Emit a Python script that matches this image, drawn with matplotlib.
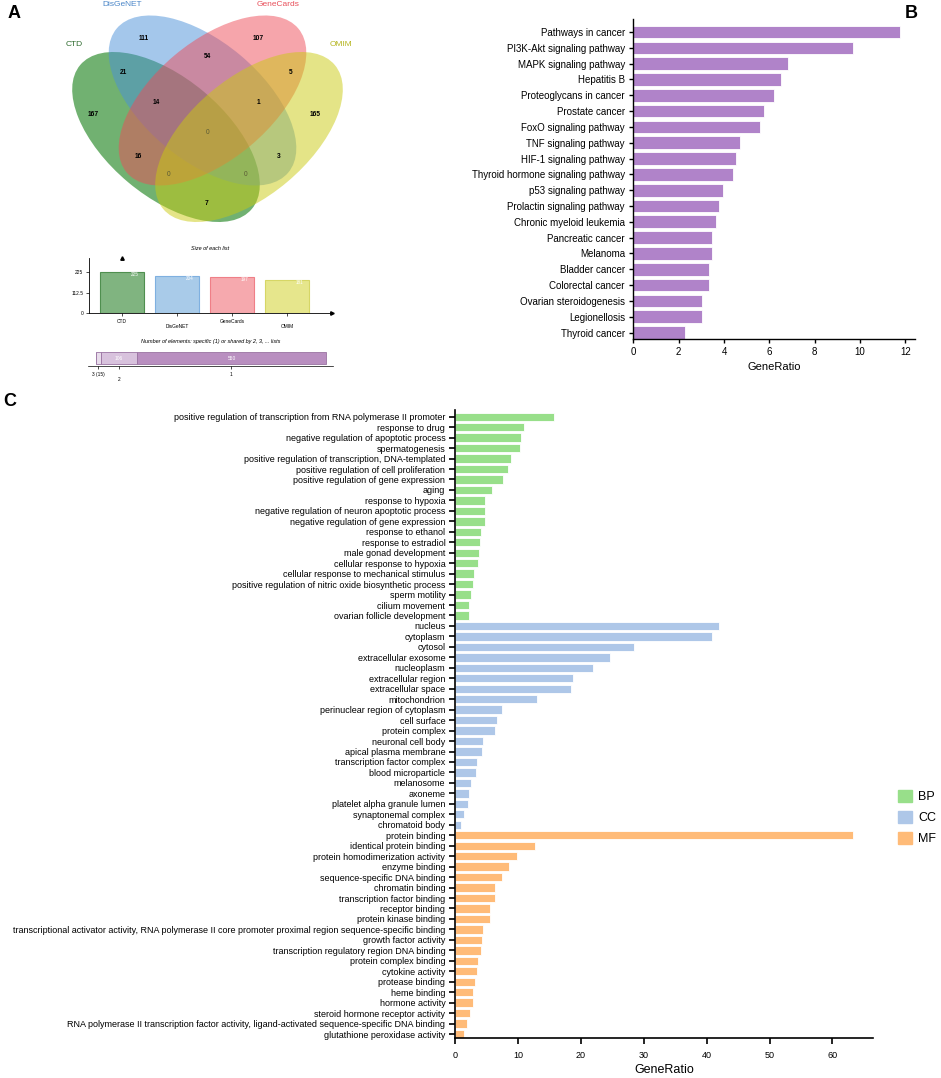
import matplotlib
matplotlib.use('Agg')
from matplotlib import pyplot as plt
from matplotlib.patches import Ellipse, Patch

plt.rcParams['font.family'] = ['Liberation Sans', 'DejaVu Sans']

# ---------------- data ----------------
set_names = ['CTD', 'DisGeNET', 'GeneCards', 'OMIM']
list_sizes = [225, 204, 197, 181]

# venn region counts, key = which sets (C=CTD, D=DisGeNET, G=GeneCards, O=OMIM)
venn_counts = {'C': 167, 'D': 111, 'G': 107, 'O': 165,
               'CD': 21, 'DG': 54, 'GO': 5, 'CG': 16, 'DO': 3, 'CO': 7,
               'CDG': 14, 'DGO': 1, 'CGO': 0, 'CDO': 0, 'CDGO': 0}

share_levels = ['4', '3', '2', '1']
share_counts = [0, 15, 106, 550]

kegg_terms = ['Pathways in cancer', 'PI3K-Akt signaling pathway', 'MAPK signaling pathway',
              'Hepatitis B', 'Proteoglycans in cancer', 'Prostate cancer',
              'FoxO signaling pathway', 'TNF signaling pathway', 'HIF-1 signaling pathway',
              'Thyroid hormone signaling pathway', 'p53 signaling pathway',
              'Prolactin signaling pathway', 'Chronic myeloid leukemia', 'Pancreatic cancer',
              'Melanoma', 'Bladder cancer', 'Colorectal cancer', 'Ovarian steroidogenesis',
              'Legionellosis', 'Thyroid cancer']
kegg_ratio = [11.76, 9.70, 6.82, 6.51, 6.21, 5.75, 5.60, 4.71, 4.54, 4.40,
              3.94, 3.79, 3.65, 3.49, 3.49, 3.34, 3.34, 3.03, 3.03, 2.28]

bp_terms = ['positive regulation of transcription from RNA polymerase II promoter',
            'response to drug', 'negative regulation of apoptotic process', 'spermatogenesis',
            'positive regulation of transcription, DNA-templated',
            'positive regulation of cell proliferation', 'positive regulation of gene expression',
            'aging', 'response to hypoxia', 'negative regulation of neuron apoptotic process',
            'negative regulation of gene expression', 'response to ethanol',
            'response to estradiol', 'male gonad development', 'cellular response to hypoxia',
            'cellular response to mechanical stimulus',
            'positive regulation of nitric oxide biosynthetic process', 'sperm motility',
            'cilium movement', 'ovarian follicle development']
bp_ratio = [15.7, 11.0, 10.5, 10.4, 8.9, 8.5, 7.7, 5.9, 4.8, 4.7,
            4.7, 4.1, 3.9, 3.8, 3.6, 3.0, 2.8, 2.6, 2.3, 2.3]

cc_terms = ['nucleus', 'cytoplasm', 'cytosol', 'extracellular exosome', 'nucleoplasm',
            'extracellular region', 'extracellular space', 'mitochondrion',
            'perinuclear region of cytoplasm', 'cell surface', 'protein complex',
            'neuronal cell body', 'apical plasma membrane', 'transcription factor complex',
            'blood microparticle', 'melanosome', 'axoneme', 'platelet alpha granule lumen',
            'synaptonemal complex', 'chromatoid body']
cc_ratio = [42.0, 40.8, 28.4, 24.6, 22.0, 18.8, 18.4, 13.0, 7.5, 6.6,
            6.4, 4.5, 4.3, 3.5, 3.4, 2.5, 2.3, 2.0, 1.5, 1.0]

mf_terms = ['protein binding', 'identical protein binding', 'protein homodimerization activity',
            'enzyme binding', 'sequence-specific DNA binding', 'chromatin binding',
            'transcription factor binding', 'receptor binding', 'protein kinase binding',
            'transcriptional activator activity, RNA polymerase II core promoter proximal region sequence-specific binding',
            'growth factor activity', 'transcription regulatory region DNA binding',
            'protein complex binding', 'cytokine activity', 'protease binding', 'heme binding',
            'hormone activity', 'steroid hormone receptor activity',
            'RNA polymerase II transcription factor activity, ligand-activated sequence-specific DNA binding',
            'glutathione peroxidase activity']
mf_ratio = [63.3, 12.7, 9.8, 8.6, 7.4, 6.4, 6.3, 5.5, 5.5, 4.5,
            4.3, 4.1, 3.6, 3.5, 3.2, 2.9, 2.8, 2.4, 1.9, 1.5]

# ---------------- figure ----------------
W, H = 941, 1078
fig = plt.figure(figsize=(W / 100, H / 100), dpi=100)


def px_axes(l, t, r, b):
    return fig.add_axes([l / W, 1 - b / H, (r - l) / W, (b - t) / H])


# ---------- A: venn ----------
ax_v = px_axes(0, 0, 360, 230)
ax_v.set_xlim(0, 360)
ax_v.set_ylim(230, 0)
ax_v.axis('off')

venn_fill = ['#0b7a0b', '#4a90d9', '#ee4c58', '#caca10']
venn_alpha = [0.58, 0.5, 0.5, 0.5]
venn_text_col = ['#2e6b2e', '#4a86c8', '#e8505b', '#b5b520']
centres = [(166, 137), (202.5, 100.5), (212.5, 100.5), (249, 137)]
angles = [40, 40, -40, -40]
for c, ang, col, al in zip(centres, angles, venn_fill, venn_alpha):
    ax_v.add_patch(Ellipse(c, 224, 118, angle=ang, facecolor=col, alpha=al, edgecolor='none'))

name_pos = [(74, 44), (122, 5), (278, 5), (341, 44)]
for nm, (x, y), col in zip(set_names, name_pos, venn_text_col):
    ax_v.text(x, y, nm, color=col, fontsize=6, ha='center', va='center')

region_pos = {'C': (93, 115), 'D': (144, 38), 'G': (258, 38), 'O': (315, 115),
              'CD': (123, 73), 'DG': (207, 56), 'GO': (291, 73), 'CG': (138, 156),
              'DO': (279, 156), 'CO': (207, 203), 'CDG': (156, 103), 'DGO': (258, 103),
              'CGO': (169, 174), 'CDO': (246, 174), 'CDGO': (208, 133)}
for key, n in venn_counts.items():
    x, y = region_pos[key]
    if n == 0:
        ax_v.text(x, y, str(n), fontsize=4.8, ha='center', va='center', color='#5a5a35')
    else:
        ax_v.text(x, y, str(n), fontsize=4.8, ha='center', va='center', fontweight='bold')

fig.text(8 / W, 1 - 14 / H, 'A', fontsize=13, fontweight='bold', va='center')

# size of each list
bar_fill = ['#80b480', '#a9cbe9', '#f6a9ae', '#e6e68c']
bar_edge = ['#4f8f4f', '#7fb0e0', '#ef7f87', '#d6d666']
ax_s = px_axes(89, 258, 332, 313)
ax_s.bar(range(4), list_sizes, width=0.8, color=bar_fill, edgecolor=bar_edge, linewidth=0.8)
ax_s.set_xlim(-0.6, 3.82)
ax_s.set_ylim(0, 302)
for i, v in enumerate(list_sizes):
    ax_s.text(i + 0.3, v - 15, str(v), color='white', fontsize=3.3, ha='right', va='center')
ax_s.spines[['top', 'right']].set_visible(False)
ax_s.spines[['left', 'bottom']].set_linewidth(0.6)
ax_s.plot(1, 0, '>k', ms=2.5, transform=ax_s.get_yaxis_transform(), clip_on=False)
ax_s.plot(0, 1, '^k', ms=2.5, transform=ax_s.get_xaxis_transform(), clip_on=False)
ax_s.set_yticks([0, 112.5, 225], ['0', '112.5', '225'])
ax_s.set_xticks(range(4), ['CTD', '\nDisGeNET', 'GeneCards', '\nOMIM'])
ax_s.tick_params(labelsize=3.5, length=2, width=0.5, pad=2)
ax_s.set_title('Size of each list', fontsize=4, style='italic', pad=6)

# number of elements
seg_fill = ['#efe6f0', '#e8dceb', '#d8c2dd', '#b98fc0']
ax_e = px_axes(88, 350, 333, 366)
left = 0
tick_x = []
for lvl, n, col in zip(share_levels, share_counts, seg_fill):
    ax_e.barh(0, n, left=left, height=0.75, color=col, edgecolor='#9a74a2', linewidth=0.6)
    if n > 50:
        ax_e.text(left + n / 2, 0, str(n), color='white', fontsize=3.5, ha='center', va='center')
    if n > 0:
        tick_x.append(left + n / 2)
    left += n
ax_e.set_xlim(-22, 692)
ax_e.set_ylim(-0.5, 0.5)
ax_e.spines[['top', 'right', 'left']].set_visible(False)
ax_e.spines['bottom'].set_linewidth(0.5)
ax_e.set_yticks([])
ax_e.set_xticks(tick_x, ['3 (15)', '\n2', '1'])
ax_e.tick_params(labelsize=3.5, length=2, width=0.5, pad=2)
ax_e.set_title('Number of elements: specific (1) or shared by 2, 3, ... lists',
               fontsize=4, style='italic', pad=5)

# ---------- B: KEGG ----------
ax_b = px_axes(633.3, 19.4, 914.7, 339)
ax_b.barh(range(len(kegg_terms)), kegg_ratio, height=0.8, color='#b083c9',
          edgecolor='white', linewidth=0.6)
ax_b.set_yticks(range(len(kegg_terms)), kegg_terms)
ax_b.set_ylim(19.41, -0.8)
ax_b.set_xlim(0, 12.41)
ax_b.set_xticks(range(0, 13, 2))
ax_b.spines[['top', 'right']].set_visible(False)
ax_b.spines[['left', 'bottom']].set_linewidth(1)
ax_b.tick_params(labelsize=7, length=3, width=1, pad=3)
ax_b.set_xlabel('GeneRatio', fontsize=8, labelpad=3)
fig.text(905 / W, 1 - 14 / H, 'B', fontsize=13, fontweight='bold', va='center')

# ---------- C: GO ----------
go_terms = bp_terms + cc_terms + mf_terms
go_ratio = bp_ratio + cc_ratio + mf_ratio
go_cols = (['#98df8a'] * len(bp_terms) + ['#aec7e8'] * len(cc_terms)
           + ['#ffbb78'] * len(mf_terms))
ax_c = px_axes(455, 410, 873.3, 1038)
ax_c.barh(range(len(go_terms)), go_ratio, height=0.8, color=go_cols,
          edgecolor='white', linewidth=0.6)
ax_c.set_yticks(range(len(go_terms)), go_terms)
ax_c.set_ylim(59.38, -0.64)
ax_c.set_xlim(0, 66.5)
ax_c.set_xticks(range(0, 61, 10))
ax_c.spines[['top', 'right']].set_visible(False)
ax_c.spines[['left', 'bottom']].set_linewidth(1.2)
ax_c.tick_params(axis='y', labelsize=6.45, length=4, width=1.2, pad=3)
ax_c.tick_params(axis='x', labelsize=6.5, length=4, width=1.2, pad=5)
ax_c.set_xlabel('GeneRatio', fontsize=9, labelpad=3)
fig.text(3 / W, 1 - 401 / H, 'C', fontsize=13, fontweight='bold', va='center')

handles = [Patch(color='#98df8a'), Patch(color='#aec7e8'), Patch(color='#ffbb78')]
fig.legend(handles, ['BP', 'CC', 'MF'], loc='upper left',
           bbox_to_anchor=(893 / W, 1 - 785 / H), frameon=False, fontsize=9,
           handlelength=1.1, handleheight=1.1, handletextpad=0.5, borderaxespad=0,
           labelspacing=0.6)

plt.savefig('out.png', dpi=100)
